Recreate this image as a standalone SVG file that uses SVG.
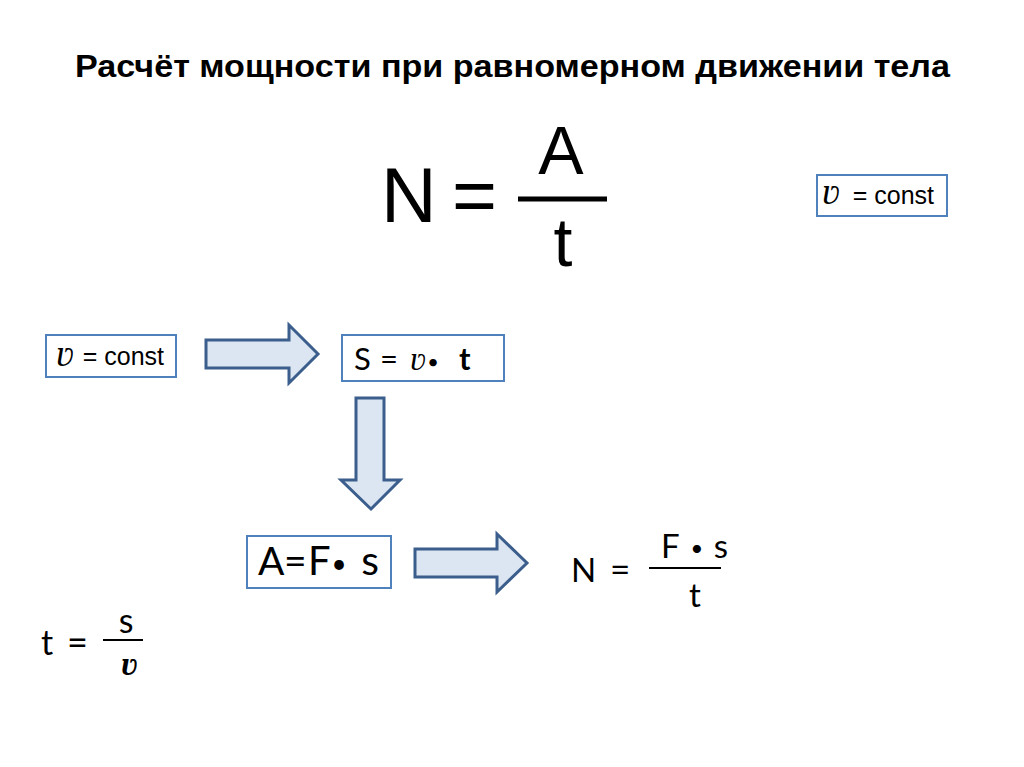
<svg xmlns="http://www.w3.org/2000/svg" width="1024" height="767" viewBox="0 0 1024 767">
<style>
.box{fill:#ffffff;stroke:#4f81bd;stroke-width:2}
.arr{fill:#dce6f2;stroke:#3b5e8c;stroke-width:3;stroke-linejoin:miter}
.ar{font-family:"Liberation Sans",Arial,sans-serif;fill:#000}
.cal{font-family:Lato,"Open Sans",sans-serif;fill:#000}
.v{font-family:"Liberation Serif","DejaVu Serif",serif;font-style:italic}
.bar{stroke:#000}
</style>
<rect width="1024" height="767" fill="#ffffff"/>
<g id="title">
<text class="ar" x="75" y="77" font-size="31" font-weight="bold" textLength="875" lengthAdjust="spacingAndGlyphs">Расчёт мощности при равномерном движении тела</text>
</g>
<g id="main-formula">
<text class="ar" x="381" y="222" font-size="77">N</text>
<text class="ar" x="452" y="222" font-size="77">=</text>
<line class="bar" x1="518" y1="199" x2="607" y2="199" stroke-width="5"/>
<text class="ar" x="561" y="174" font-size="68" text-anchor="middle">A</text>
<text class="ar" x="563" y="266" font-size="68" text-anchor="middle">t</text>
</g>
<g id="box-const-top">
<rect class="box" x="817" y="175" width="130" height="41"/>
<text class="v" x="822" y="204" font-size="37">ʋ</text>
<text class="ar" x="934" y="204" font-size="25" text-anchor="end">= const</text>
</g>
<g id="box-const">
<rect class="box" x="46" y="335" width="130" height="42"/>
<text class="v" x="56" y="366" font-size="37">ʋ</text>
<text class="ar" x="164" y="365" font-size="25" text-anchor="end">= const</text>
</g>
<g id="box-s">
<rect class="box" x="342" y="335" width="162" height="46"/>
<text class="cal" x="354" y="370" font-size="31">S</text>
<text class="cal" x="380" y="370" font-size="31">=</text>
<text class="v" x="410" y="370" font-size="33">ʋ</text>
<text class="cal" x="433" y="369" font-size="20" text-anchor="middle">•</text>
<text class="cal" x="459" y="370" font-size="31" font-weight="bold">t</text>
</g>
<g id="box-a">
<rect class="box" x="247" y="536" width="144" height="52"/>
<text class="cal" x="258" y="575" font-size="39">A</text>
<text class="cal" x="284" y="575" font-size="39">=</text>
<text class="cal" x="308" y="575" font-size="40">F</text>
<text class="cal" x="339" y="573" font-size="26" text-anchor="middle">•</text>
<text class="cal" x="379" y="575" font-size="41" text-anchor="end">s</text>
</g>
<g id="formula-n">
<text class="cal" x="571" y="582" font-size="33">N</text>
<text class="cal" x="610" y="582" font-size="35">=</text>
<line class="bar" x1="649" y1="568" x2="721" y2="568" stroke-width="2"/>
<text class="cal" x="661" y="558" font-size="33">F</text>
<text class="cal" x="697" y="556" font-size="22" text-anchor="middle">•</text>
<text class="cal" x="728" y="558" font-size="33" text-anchor="end">s</text>
<text class="cal" x="695" y="607" font-size="33" text-anchor="middle">t</text>
</g>
<g id="formula-t">
<text class="cal" x="41" y="655" font-size="34">t</text>
<text class="cal" x="67" y="655" font-size="36">=</text>
<line class="bar" x1="103" y1="640" x2="143" y2="640" stroke-width="2"/>
<text class="cal" x="126" y="633" font-size="34" text-anchor="middle">s</text>
<text class="v" x="129" y="675" font-size="34" font-weight="bold" text-anchor="middle">ʋ</text>
</g>
<g id="connectors">
<path class="arr" d="M206,340 L289,340 L289,325 L318,354 L289,383 L289,368 L206,368 Z"/>
<path class="arr" d="M356,398 L384,398 L384,480 L400,480 L371,509 L341,480 L356,480 Z"/>
<path class="arr" d="M415,549 L497,549 L497,534 L527,563 L497,592 L497,577 L415,577 Z"/>
</g>
</svg>
